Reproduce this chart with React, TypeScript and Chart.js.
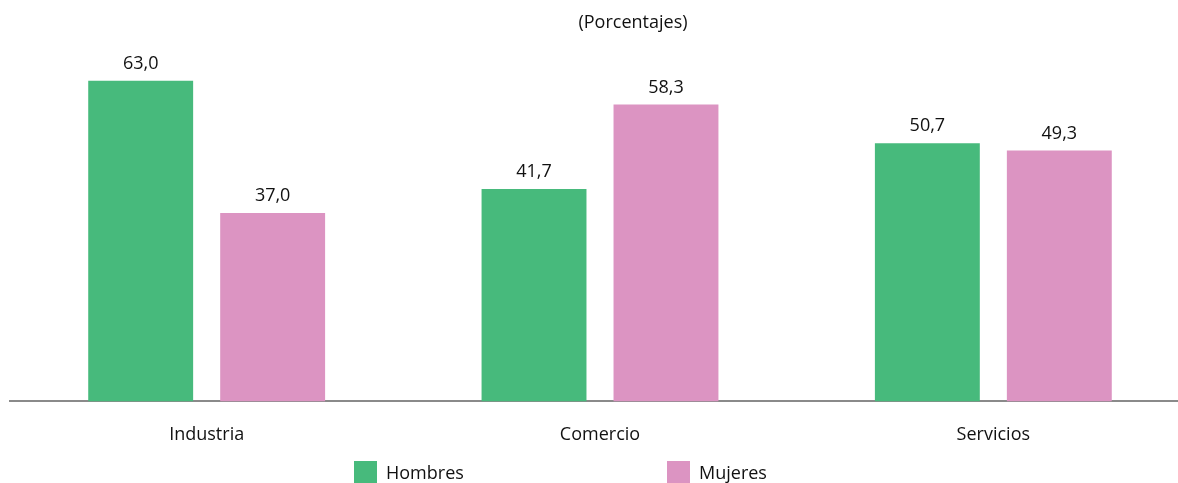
import React, { useEffect, useRef } from "react";
import { Chart, registerables } from "chart.js";

Chart.register(...registerables);

const categories = ["Industria", "Comercio", "Servicios"];
const hombres = [63.0, 41.7, 50.7];
const mujeres = [37.0, 58.3, 49.3];
const seriesNames = ["Hombres", "Mujeres"];
const subtitle = "(Porcentajes)";

const GREEN = "#47BA7C";
const PINK = "#DC94C2";
const FONT = "'Open Sans', sans-serif";

const fmt = (v: number) => v.toFixed(1).replace(".", ",");

const overlayPlugin = {
  id: "overlay",
  afterDatasetsDraw(chart: any) {
    const ctx = chart.ctx;
    ctx.save();
    ctx.fillStyle = "#111";
    ctx.font = `18px ${FONT}`;
    ctx.textAlign = "center";
    ctx.textBaseline = "middle";
    chart.data.datasets.forEach((ds: any, i: number) => {
      const meta = chart.getDatasetMeta(i);
      meta.data.forEach((bar: any, j: number) => {
        ctx.fillText(fmt(ds.data[j]), bar.x, bar.y - 17);
      });
    });
    // subtitle
    ctx.fillText(subtitle, 633, 23);
    // legend
    const items = [
      { name: seriesNames[0], color: GREEN, x: 354 },
      { name: seriesNames[1], color: PINK, x: 667 },
    ];
    ctx.textAlign = "left";
    items.forEach((it) => {
      ctx.fillStyle = it.color;
      ctx.fillRect(it.x, 461, 23, 23);
      ctx.fillStyle = "#111";
      ctx.fillText(it.name, it.x + 32, 474);
    });
    ctx.restore();
  },
};

export default function App() {
  const ref = useRef<HTMLCanvasElement | null>(null);
  useEffect(() => {
    if (!ref.current) return;
    const chart = new Chart(ref.current, {
      type: "bar",
      data: {
        labels: categories,
        datasets: [
          {
            label: seriesNames[0],
            data: hombres,
            backgroundColor: GREEN,
            categoryPercentage: 0.671,
            barPercentage: 0.795,
          },
          {
            label: seriesNames[1],
            data: mujeres,
            backgroundColor: PINK,
            categoryPercentage: 0.671,
            barPercentage: 0.795,
          },
        ],
      },
      options: {
        animation: false,
        responsive: false,
        maintainAspectRatio: false,
        layout: { padding: { left: 10, right: 10, top: 45, bottom: 22 } },
        plugins: {
          legend: { display: false },
          tooltip: { enabled: false },
          title: { display: false },
        },
        scales: {
          x: {
            grid: { display: false },
            border: { display: true, color: "#8a8a8a", width: 2 },
            ticks: {
              color: "#111",
              font: { family: FONT, size: 18 },
              padding: 15,
            },
          },
          y: {
            display: false,
            min: 0,
            max: 70,
          },
        },
      },
      plugins: [overlayPlugin],
    });
    return () => chart.destroy();
  }, []);
  return (
    <div
      style={{
        position: "fixed",
        left: 0,
        top: 0,
        width: 1178,
        height: 483,
        overflow: "hidden",
        background: "#fff",
      }}
    >
      <canvas ref={ref} width={1200} height={483} style={{ width: 1200, height: 483 }} />
    </div>
  );
}
